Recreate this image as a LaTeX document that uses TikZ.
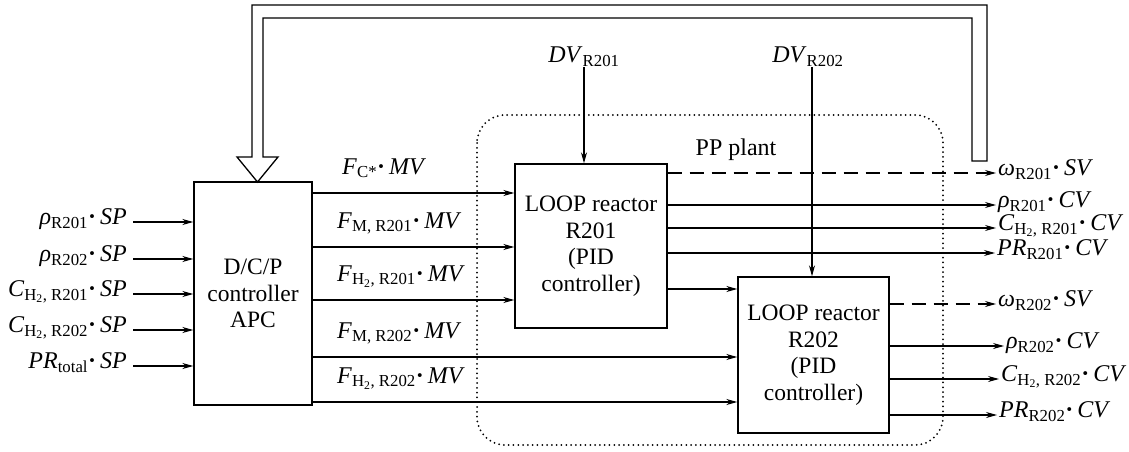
\documentclass[tikz,border=0pt]{standalone}
\usepackage{fontspec}
\setmainfont{Liberation Serif}
\newfontfamily\tnr{Liberation Serif}
\usetikzlibrary{arrows.meta}
\newcommand{\lab}[3]{\textit{#1}\textsubscript{#2}\textbf{·}\,\textit{#3}}
\begin{document}
\begin{tikzpicture}[x=1pt,y=-1pt,
  box/.style={draw,line width=1.4pt,align=center,font=\tnr\fontsize{23.5}{26.5}\selectfont,inner sep=0pt},
  arr/.style={line width=1.1pt,-{Stealth[length=11pt,width=6pt]}},
  dash arr/.style={arr,dash pattern=on 14pt off 8pt},
  lbl/.style={font=\tnr\fontsize{24}{26}\selectfont,inner sep=2pt},
  plain/.style={line width=1.1pt}
]
\useasboundingbox (0,0) rectangle (1129,452);
% plant boundary
\draw[line width=2pt,dash pattern=on 0pt off 4.8pt,line cap=round,rounded corners=28pt] (477,115) rectangle (943,445);
\node[lbl] (pp) at (736,150) {PP plant};
% boxes
\node[box,minimum width=118pt,minimum height=223pt] (apc) at (253,293.5) {D/C/P\\controller\\APC};
\node[box,minimum width=152pt,minimum height=164pt] (r201) at (591,246) {LOOP reactor\\R201\\(PID\\controller)};
\node[box,minimum width=151pt,minimum height=156pt] (r202) at (813.5,355) {LOOP reactor\\R202\\(PID\\controller)};
% feedback hollow arrow
\draw[line width=1.3pt,fill=white] (987,161) -- (987,5) -- (252,5) -- (252,157) -- (237,157) -- (257.5,182) -- (278,157) -- (263,157) -- (263,18) -- (972,18) -- (972,161) -- cycle;
% left inputs
\foreach \n/\y/\t in {i1/222/{\lab{ρ}{R201}{SP}},i2/259/{\lab{ρ}{R202}{SP}},i3/294/{\lab{C}{H\textsubscript{2}, R201}{SP}},i4/330/{\lab{C}{H\textsubscript{2}, R202}{SP}},i5/366/{\lab{PR}{total}{SP}}}{
  \node[lbl,anchor=mid east] (\n) at (129,\y) {\t};
  \draw[arr] ([xshift=4pt]\n.mid east) -- (apc.west |- \n.mid east);
}
% MV lines
\coordinate (m1) at (312,193);
\coordinate (m2) at (312,247);
\coordinate (m3) at (312,300);
\coordinate (m4) at (312,357);
\coordinate (m5) at (312,402);
\draw[arr] (m1) -- (m1 -| r201.west);
\draw[arr] (m2) -- (m2 -| r201.west);
\draw[arr] (m3) -- (m3 -| r201.west);
\draw[arr] (m4) -- (m4 -| r202.west);
\draw[arr] (m5) -- (m5 -| r202.west);
\node[lbl,anchor=base west] (f1) at (340,174) {\lab{F}{C*}{MV}};
\node[lbl,anchor=base west] (f2) at (335,228) {\lab{F}{M, R201}{MV}};
\node[lbl,anchor=base west] (f3) at (335,281) {\lab{F}{H\textsubscript{2}, R201}{MV}};
\node[lbl,anchor=base west] (f4) at (335,338) {\lab{F}{M, R202}{MV}};
\node[lbl,anchor=base west] (f5) at (335,383) {\lab{F}{H\textsubscript{2}, R202}{MV}};
% disturbances
\node[lbl] (dv1) at (584,57) {\textit{DV}\textsubscript{R201}};
\node[lbl] (dv2) at (808,57) {\textit{DV}\textsubscript{R202}};
\draw[arr] ([xshift=-7pt,yshift=2pt]r201.north |- dv1.south) -- ([xshift=-7pt]r201.north);
\draw[arr] ([xshift=-1.5pt,yshift=2pt]r202.north |- dv2.south) -- ([xshift=-1.5pt]r202.north);
% R201 to R202
\coordinate (c12) at (667,289);
\draw[arr] (c12) -- (c12 -| r202.west);
% R201 outputs
\node[lbl,anchor=mid west] (o1) at (996,173) {\lab{ω}{R201}{SV}};
\node[lbl,anchor=mid west] (o2) at (996,205) {\lab{ρ}{R201}{CV}};
\node[lbl,anchor=mid west] (o3) at (996,228) {\lab{C}{H\textsubscript{2}, R201}{CV}};
\node[lbl,anchor=mid west] (o4) at (995,253) {\lab{PR}{R201}{CV}};
\draw[dash arr] (r201.east |- o1.mid west) -- (o1.mid west);
\draw[arr] (r201.east |- o2.mid west) -- (o2.mid west);
\draw[arr] (r201.east |- o3.mid west) -- (o3.mid west);
\draw[arr] (r201.east |- o4.mid west) -- (o4.mid west);
% R202 outputs
\node[lbl,anchor=mid west] (p1) at (996,304) {\lab{ω}{R202}{SV}};
\node[lbl,anchor=mid west] (p2) at (1004,346) {\lab{ρ}{R202}{CV}};
\node[lbl,anchor=mid west] (p3) at (999,379) {\lab{C}{H\textsubscript{2}, R202}{CV}};
\node[lbl,anchor=mid west] (p4) at (997,415) {\lab{PR}{R202}{CV}};
\draw[dash arr] (r202.east |- p1.mid west) -- (p1.mid west);
\draw[arr] (r202.east |- p2.mid west) -- (p2.mid west);
\draw[arr] (r202.east |- p3.mid west) -- (p3.mid west);
\draw[arr] (r202.east |- p4.mid west) -- (p4.mid west);
\end{tikzpicture}
\end{document}
